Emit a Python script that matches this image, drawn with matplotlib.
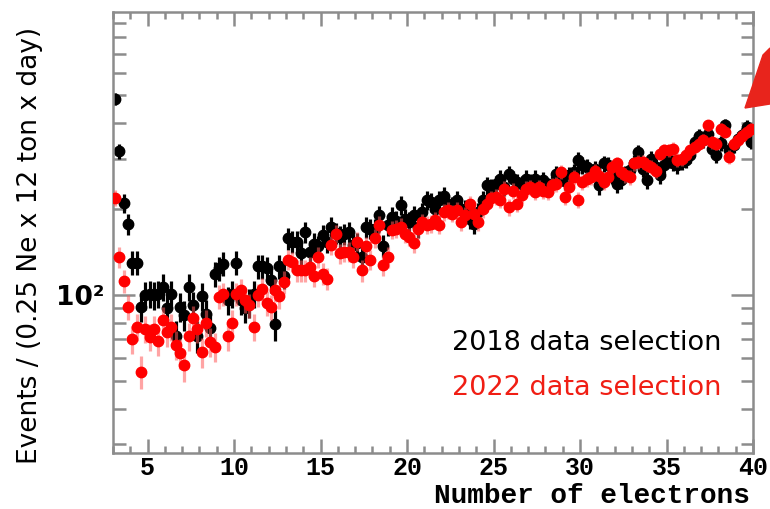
import numpy as np
import matplotlib
matplotlib.use("Agg")
import matplotlib.pyplot as plt
from matplotlib.ticker import FixedLocator, FixedFormatter, MultipleLocator, NullFormatter
from matplotlib.patches import Polygon

# --- data: events per 0.25 Ne bin, first bin centred at 3.125 ---
first_bin = 3.125
bin_width = 0.25

sel_2018 = [
    487, 319, 210, 177, 130, 130, 91, 100,
    101, 100, 101, 107, 90, 101, 72, 91,
    85, 107, 92, 72, 99, 86, 77, 119,
    124, 129, 96, 101, 130, 96, 90, 94,
    101, 126, 126, 124, 113, 79, 126, 117,
    158, 154, 154, 140, 166, 142, 151, 148,
    162, 154, 173, 165,
    160, 164, 166, 150, 152, 136, 173, 171,
    171, 190, 149, 176, 188, 182, 206, 185,
    180, 190, 173, 195, 215, 212, 201, 215,
    223, 209, 205, 215, 198, 200, 185, 178,
    195, 215, 242, 238, 245, 256, 240, 266,
    255, 249, 245, 256, 248, 256, 245, 252,
    240, 245, 266, 259, 250, 263, 270, 297,
    285, 281, 270, 277, 242, 289, 285, 262,
    245, 252, 265, 275, 290, 317, 277, 252,
    300, 280, 263, 285, 297, 290, 285, 293,
    297, 310, 343, 362, 348, 367, 325, 309,
    340, 393, 321, 335, 353, 365, 388, 344,
]

sel_2022 = [
    219, 136, 112, 91, 70, 77.5, 54, 76,
    71.5, 76, 69, 82, 74, 77.5, 67, 62.5,
    57, 72, 83, 76, 63, 80, 68.6, 66,
    98.7, 101, 72, 80, 101, 104, 96, 92,
    77.5, 100, 105, 94, 91, 104, 99, 111,
    133, 131, 122, 122, 122, 125, 117, 136,
    119, 114, 150, 164,
    140, 142, 142, 136, 154, 122, 148, 133,
    158, 176, 127, 136, 169, 171, 173, 164,
    160, 152, 170, 180, 176, 178, 183, 176,
    195, 198, 193, 198, 180, 190, 209, 193,
    180, 200, 209, 218, 221, 215, 236, 203,
    232, 209, 225, 236, 239, 230, 239, 232,
    230, 242, 245, 270, 221, 240, 259, 215,
    249, 255, 259, 273, 262, 249, 259, 281,
    289, 270, 263, 259, 289, 293, 293, 285,
    281, 273, 313, 321, 321, 326, 297, 300,
    309, 321, 330, 339, 348, 393, 343, 339,
    383, 372, 305, 339, 348, 362, 372, 383,
]

labels = ["2018 data selection", "2022 data selection"]

y18 = np.array(sel_2018, dtype=float)
y22 = np.array(sel_2022, dtype=float)
x18 = first_bin + bin_width * np.arange(len(y18))
x22 = first_bin + bin_width * np.arange(len(y22))

W, H = 770, 509
fig = plt.figure(figsize=(W / 100, H / 100), dpi=100)
ax = fig.add_axes([113 / W, 1 - 453 / H, 640 / W, 441 / H])

# Poisson-like statistical errors
ax.errorbar(x18, y18, yerr=np.sqrt(y18) * 1.1, fmt="o", color="black", ms=7.5,
            elinewidth=2.3, capsize=0, zorder=2)
ax.errorbar(x22, y22, yerr=np.sqrt(y22) * 0.95, fmt="o", color="#ff0000", ms=7.5,
            ecolor=(1, 0.35, 0.35, 0.55), elinewidth=2.3, capsize=0, zorder=3)

ax.set_yscale("log")
ax.set_xlim(3, 40)
ax.set_ylim(28, 980)

gray = "#8c8c8c"
for s in ax.spines.values():
    s.set_color(gray)
    s.set_linewidth(1.8)

ax.xaxis.set_major_locator(MultipleLocator(5))
ax.xaxis.set_minor_locator(MultipleLocator(1))
ax.yaxis.set_major_locator(FixedLocator([100]))
ax.yaxis.set_major_formatter(FixedFormatter(["10²"]))
ax.yaxis.set_minor_locator(FixedLocator([30, 40, 50, 60, 70, 80, 90,
                                         200, 300, 400, 500, 600, 700, 800, 900]))
ax.yaxis.set_minor_formatter(NullFormatter())

ax.tick_params(which="both", direction="in", top=True, right=True, color=gray, width=1.8)
ax.tick_params(axis="x", which="major", length=10)
ax.tick_params(axis="x", which="minor", length=5)
ax.tick_params(axis="y", which="major", length=16)
ax.tick_params(axis="y", which="minor", length=9)

for lab in ax.get_xticklabels():
    lab.set_fontfamily("Liberation Mono")
    lab.set_fontweight("bold")
    lab.set_fontsize(18)
ax.tick_params(axis="x", pad=2)
for lab in ax.get_yticklabels():
    lab.set_fontfamily("DejaVu Sans")
    lab.set_fontweight("bold")
    lab.set_fontsize(19)
ax.tick_params(axis="y", pad=6)

fig.text(750 / W, 1 - 503 / H, "Number of electrons", ha="right", va="baseline",
         family="Liberation Mono", weight="bold", fontsize=20)
fig.text(30 / W, 1 - 245 / H, "Events / (0.25 Ne x 12 ton x day)", rotation=90,
         ha="center", va="center", family="DejaVu Sans", fontsize=19)

ax.text(452 / W, 1 - 343 / H, labels[0], transform=fig.transFigure, color="black",
        fontsize=19.5, va="center", ha="left", family="DejaVu Sans")
ax.text(452 / W, 1 - 388 / H, labels[1], transform=fig.transFigure, color="#f01e14",
        fontsize=19.5, va="center", ha="left", family="DejaVu Sans")

# red arrow fragment at the top-right corner
pts = [(745, 108), (763, 55), (770, 48), (770, 104)]
fig.patches.append(Polygon([(px / W, 1 - py / H) for px, py in pts], closed=True,
                           transform=fig.transFigure, color="#e8241c"))

fig.savefig("out.png", dpi=100)
